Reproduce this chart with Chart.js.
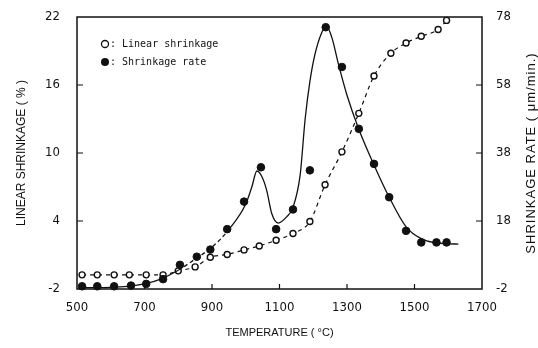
<!DOCTYPE html>
<html>
<head>
<meta charset="utf-8">
<script src="https://cdn.jsdelivr.net/npm/chart.js@4/dist/chart.umd.min.js"></script>
<style>
    html, body { margin: 0; padding: 0; background: #fff; }
    #wrap { width: 538px; height: 348px; position: relative; }
</style>
</head>
<body>
<div id="wrap"><canvas id="sinter-chart"></canvas></div>
<script>
// open circles: linear shrinkage (%), left axis
const linearTemps = [515, 560, 610, 655, 705, 755, 800, 850, 895, 945, 995, 1040, 1090, 1140, 1190, 1235, 1285, 1335, 1380, 1430, 1475, 1520, 1570, 1595]
const linearShrinkage = [-0.75, -0.75, -0.75, -0.75, -0.75, -0.75, -0.4, -0.05, 0.8, 1.05, 1.45, 1.8, 2.3, 2.9, 3.95, 7.2, 10.1, 13.5, 16.8, 18.8, 19.7, 20.3, 20.9, 21.7]

// filled circles: shrinkage rate, right axis
const rateTemps = [515, 560, 610, 660, 705, 755, 805, 855, 895, 945, 995, 1045, 1090, 1140, 1190, 1237, 1285, 1335, 1380, 1425, 1475, 1520, 1565, 1595]
const shrinkageRate = [-1.2, -1.2, -1.2, -1.0, -0.5, 0.9, 5.1, 7.5, 9.6, 15.6, 23.7, 33.8, 15.6, 21.4, 32.9, 75.0, 63.3, 45.1, 34.8, 25.0, 15.1, 11.7, 11.7, 11.7]

// hand-drawn smooth curve through the rate data
const rateCurveTemps = [520, 600, 650, 700, 750, 800, 850, 900, 950, 1000, 1018, 1033, 1048, 1062, 1077, 1096, 1121, 1140, 1161, 1176, 1190, 1205, 1225, 1239, 1255, 1275, 1300, 1335, 1380, 1425, 1475, 1520, 1560, 1600, 1630]
const rateCurve = [-1.6, -1.5, -1.2, -0.5, 1.0, 3.5, 6.8, 10.3, 15.5, 23.0, 28.0, 32.7, 31.0, 27.0, 20.2, 17.4, 19.2, 22.0, 31.4, 48.0, 59.0, 67.0, 73.4, 75.3, 72.0, 64.0, 55.0, 45.0, 34.5, 25.0, 16.3, 12.8, 11.6, 11.3, 11.2]

const tempTicks = [500, 700, 900, 1100, 1300, 1500, 1700]
const linearTicks = [-2, 4, 10, 16, 22]
const rateTicks = [-2, 18, 38, 58, 78]

const pairs = (xs, ys) => xs.map((x, i) => ({ x, y: ys[i] }))

const tickFont = { family: "'Liberation Sans Narrow', 'DejaVu Sans Condensed', 'Liberation Sans', sans-serif", size: 13 }
const titleFont = { family: "'Liberation Sans', 'DejaVu Sans', sans-serif", size: 11 }
const plainNumber = (v) => String(v)

function fixedTicks(values) {
    return (scale) => { scale.ticks = values.map(v => ({ value: v })) }
}

// pin the box size and drop the label overhang so the plot frame lands where we want it
function fixBox(w, h) {
    return (s) => {
        if (w !== null) s.width = w
        if (h !== null) s.height = h
        s.paddingTop = 0
        s.paddingBottom = 0
        s.paddingLeft = 0
        s.paddingRight = 0
    }
}

// frame, inward tick marks, in-plot legend and the right-hand title
function decorPlugin() {
    return {
        id: "decor",
        afterDatasetsDraw: (chart) => {
            const { ctx, chartArea: a, scales } = chart

            ctx.save()
            ctx.strokeStyle = "#111"
            ctx.lineWidth = 1.5
            ctx.strokeRect(a.left, a.top, a.right - a.left, a.bottom - a.top)

            ctx.lineWidth = 1.2
            ctx.beginPath()
            tempTicks.slice(1, -1).forEach(v => {
                const px = scales.x.getPixelForValue(v)
                ctx.moveTo(px, a.bottom)
                ctx.lineTo(px, a.bottom - 5)
            })
            linearTicks.slice(1, -1).forEach(v => {
                const py = scales.y.getPixelForValue(v)
                ctx.moveTo(a.left, py)
                ctx.lineTo(a.left + 6, py)
            })
            rateTicks.slice(1, -1).forEach(v => {
                const py = scales.y1.getPixelForValue(v)
                ctx.moveTo(a.right, py)
                ctx.lineTo(a.right - 6, py)
            })
            ctx.stroke()

            // legend
            const lx = a.left + 28
            ctx.font = "10px 'DejaVu Sans Mono', monospace"
            ctx.textBaseline = "middle"
            ctx.fillStyle = "#111"

            ctx.beginPath()
            ctx.arc(lx, a.top + 27, 3.5, 0, Math.PI * 2)
            ctx.lineWidth = 1.3
            ctx.stroke()
            ctx.fillText(": Linear shrinkage", lx + 5, a.top + 27)

            ctx.beginPath()
            ctx.arc(lx, a.top + 45, 4, 0, Math.PI * 2)
            ctx.fill()
            ctx.fillText(": Shrinkage rate", lx + 5, a.top + 45)

            // right title reads bottom-to-top like the left one
            ctx.translate(531, (a.top + a.bottom) / 2)
            ctx.rotate(-Math.PI / 2)
            ctx.textAlign = "center"
            ctx.font = "13px 'Liberation Sans', sans-serif"
            ctx.letterSpacing = "1px"
            ctx.fillText("SHRINKAGE RATE ( μm/min.)", 0, 0)
            ctx.restore()
        }
    }
}

const canvas = document.getElementById("sinter-chart")

new Chart(canvas.getContext("2d"), {
    data: {
        datasets: [
            {
                label: "Shrinkage rate curve",
                type: "line",
                yAxisID: "y1",
                data: pairs(rateCurveTemps, rateCurve),
                borderColor: "#111",
                borderWidth: 1.3,
                pointRadius: 0,
                cubicInterpolationMode: "monotone",
                segment: {
                    borderDash: (c) => (c.p0.parsed.x >= 790 && c.p1.parsed.x <= 955) ? [4, 3] : undefined
                }
            },
            {
                label: "Shrinkage rate",
                type: "scatter",
                yAxisID: "y1",
                data: pairs(rateTemps, shrinkageRate),
                pointRadius: 3.8,
                backgroundColor: "#111",
                borderColor: "#111"
            },
            {
                label: "Linear shrinkage",
                type: "line",
                yAxisID: "y",
                data: pairs(linearTemps, linearShrinkage),
                borderColor: "#111",
                borderWidth: 1.2,
                borderDash: [4, 4],
                cubicInterpolationMode: "monotone",
                pointRadius: 3,
                pointBorderWidth: 1.4,
                pointBackgroundColor: "#fff",
                pointBorderColor: "#111"
            }
        ]
    },
    options: {
        responsive: true,
        maintainAspectRatio: false,
        animation: false,
        clip: false,
        layout: { padding: { top: 17, right: 0, left: 0, bottom: 0 } },
        plugins: {
            legend: { display: false },
            tooltip: { enabled: false }
        },
        scales: {
            x: {
                type: "linear",
                min: 500,
                max: 1700,
                afterBuildTicks: fixedTicks(tempTicks),
                afterFit: fixBox(null, 59),
                grid: { display: false, drawTicks: false },
                border: { display: false },
                ticks: { color: "#111", font: tickFont, padding: 11, callback: plainNumber },
                title: { display: true, text: "TEMPERATURE ( °C)", color: "#111", font: titleFont, padding: { top: 0, bottom: 8 } }
            },
            y: {
                position: "left",
                min: -2,
                max: 22,
                afterBuildTicks: fixedTicks(linearTicks),
                afterFit: fixBox(77, null),
                grid: { display: false, drawTicks: false },
                border: { display: false },
                ticks: { color: "#111", font: tickFont, padding: 17, callback: plainNumber },
                title: { display: true, text: "LINEAR SHRINKAGE ( % )", color: "#111", font: { ...titleFont, size: 12 }, padding: { top: 14, bottom: 0 } }
            },
            y1: {
                position: "right",
                min: -2,
                max: 78,
                afterBuildTicks: fixedTicks(rateTicks),
                afterFit: fixBox(56, null),
                grid: { display: false, drawTicks: false },
                border: { display: false },
                ticks: { color: "#111", font: tickFont, padding: 14, callback: plainNumber }
            }
        }
    },
    plugins: [decorPlugin()]
})
</script>
</body>
</html>
